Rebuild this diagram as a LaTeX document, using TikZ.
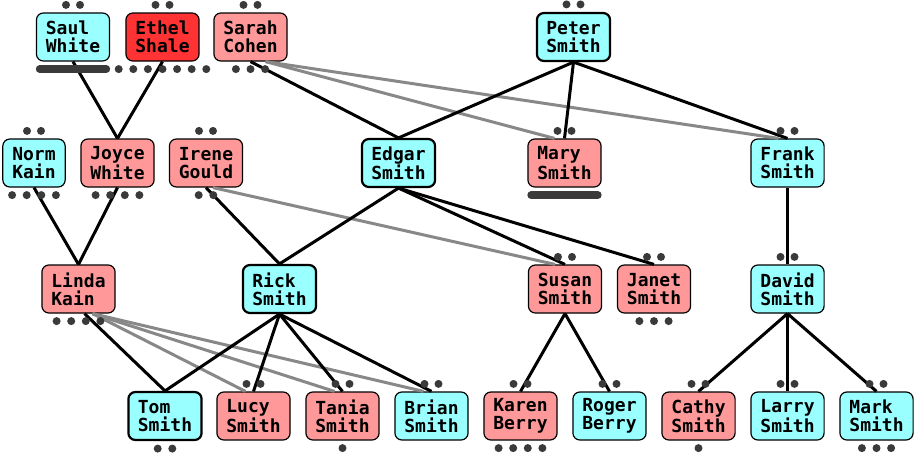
\documentclass[tikz,border=0pt]{standalone}
\usepackage{fontspec}
\setmonofont{DejaVu Sans Mono}
\usepackage{xcolor}
\usepackage{tikz}
\usetikzlibrary{arrows.meta,positioning}

\definecolor{boycyan}{HTML}{99FFFF}
\definecolor{girlpink}{HTML}{FF9999}
\definecolor{pickred}{HTML}{FF3333}
\definecolor{dotgray}{HTML}{3A3A3A}
\definecolor{stepgray}{HTML}{888888}

\begin{document}
\begin{tikzpicture}[x=1pt,y=-1pt,
  font=\ttfamily\bfseries\fontsize{18}{18}\selectfont,
  person/.style={draw,rounded corners=7pt,align=left,inner xsep=9.5pt,inner ysep=0pt,minimum height=48pt,line width=1.2pt},
  male/.style={person,fill=boycyan},
  female/.style={person,fill=girlpink},
  picked/.style={person,fill=pickred},
  focus/.style={line width=2.2pt},
  dot/.style={circle,fill=dotgray,inner sep=0pt,minimum size=8pt},
  bar/.style={draw=dotgray,line width=8pt,line cap=round},
  kin/.style={line width=3pt},
  stepkin/.style={line width=3pt,stepgray}]
\useasboundingbox (0,0) rectangle (916,455);

% generation 1
\node[male] (Saul) at (73,37) {Saul\\White};
\node[picked] (Ethel) at (162.5,37) {Ethel\\Shale};
\node[female] (Sarah) at (250.5,37) {Sarah\\Cohen};
\node[male,focus] (Peter) at (573.5,37) {Peter\\Smith};

% generation 2
\node[male] (Norm) at (34,163) {Norm\\Kain};
\node[female] (Joyce) at (117.5,163) {Joyce\\White};
\node[female] (Irene) at (206,163) {Irene\\Gould};
\node[male,focus] (Edgar) at (398.5,163) {Edgar\\Smith};
\node[female] (Mary) at (564.5,163) {Mary\\Smith};
\node[male] (Frank) at (787.5,163) {Frank\\Smith};

% generation 3
\node[female] (Linda) at (78.5,289) {Linda\\Kain};
\node[male,focus] (Rick) at (279.5,289) {Rick\\Smith};
\node[female] (Susan) at (565,289) {Susan\\Smith};
\node[female] (Janet) at (654,289) {Janet\\Smith};
\node[male] (David) at (787.5,289) {David\\Smith};

% generation 4
\node[male,focus] (Tom) at (165,416) {Tom\\Smith};
\node[female] (Lucy) at (253.5,416) {Lucy\\Smith};
\node[female] (Tania) at (342.5,416) {Tania\\Smith};
\node[male] (Brian) at (431.5,416) {Brian\\Smith};
\node[female] (Karen) at (520.5,416) {Karen\\Berry};
\node[male] (Roger) at (609.5,416) {Roger\\Berry};
\node[female] (Cathy) at (698.5,416) {Cathy\\Smith};
\node[male] (Larry) at (787.5,416) {Larry\\Smith};
\node[male] (Mark) at (876.5,416) {Mark\\Smith};

% step links
\draw[stepkin] ([xshift=15pt]Sarah.south)--([xshift=-10pt]Mary.north);
\draw[stepkin] ([xshift=15pt]Sarah.south)--([xshift=-9pt]Frank.north);
\draw[stepkin] ([xshift=7pt]Irene.south)--([xshift=-10pt]Susan.north);
\foreach \c in {Lucy,Tania,Brian}
  \draw[stepkin] ([xshift=14pt]Linda.south)--([xshift=-8pt]\c.north);

% parent links
\draw[kin] (Saul.south)--(Joyce.north);
\draw[kin] (Ethel.south)--(Joyce.north);
\draw[kin] (Norm.south)--(Linda.north);
\draw[kin] (Joyce.south)--(Linda.north);
\draw[kin] (Sarah.south)--(Edgar.north);
\foreach \c in {Edgar,Mary,Frank}
  \draw[kin] (Peter.south)--(\c.north);
\draw[kin] (Irene.south)--(Rick.north);
\foreach \c in {Rick,Susan,Janet}
  \draw[kin] (Edgar.south)--(\c.north);
\draw[kin] (Frank.south)--(David.north);
\draw[kin] ([xshift=6pt]Linda.south)--(Tom.north);
\foreach \c in {Tom,Lucy,Tania,Brian}
  \draw[kin] (Rick.south)--(\c.north);
\foreach \c in {Karen,Roger}
  \draw[kin] (Susan.south)--(\c.north);
\foreach \c in {Cathy,Larry,Mark}
  \draw[kin] (David.south)--(\c.north);

% dots above and below
\foreach \n in {Saul,Ethel,Sarah,Peter,Norm,Irene,Mary,Frank,Susan,Janet,David,Lucy,Tania,Brian,Karen,Roger,Cathy,Larry,Mark}
  \foreach \dx in {-7,7}
    \node[dot] at ([xshift=\dx pt,yshift=7.5pt]\n.north) {};
\foreach \n/\k in {Ethel/7,Sarah/3,Norm/4,Joyce/4,Irene/2,Linda/4,Janet/3,Tom/2,Tania/1,Karen/4,Cathy/1,Mark/3}
  \foreach \i in {1,...,\k}
    \node[dot] at ([xshift={(\i-(\k+1)/2)*14.6pt},yshift=-7.5pt]\n.south) {};
\draw[bar] ([xshift=4pt,yshift=-7.5pt]Saul.south west)--([xshift=-4pt,yshift=-7.5pt]Saul.south east);
\draw[bar] ([xshift=4pt,yshift=-7.5pt]Mary.south west)--([xshift=-4pt,yshift=-7.5pt]Mary.south east);
\end{tikzpicture}
\end{document}
